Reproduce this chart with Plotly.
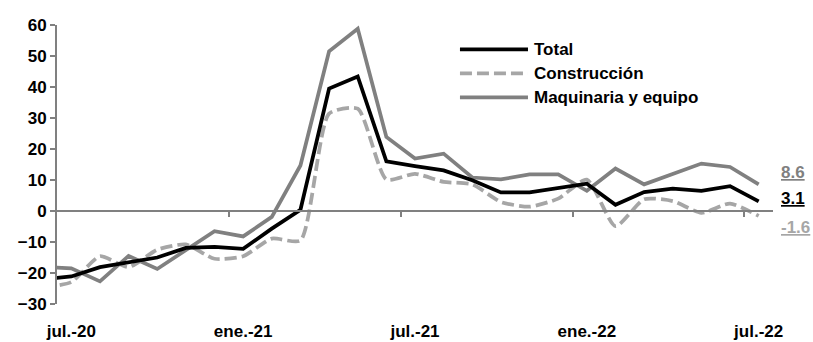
import plotly.graph_objects as go

months = ['jun.-20', 'jul.-20', 'ago.-20', 'sep.-20', 'oct.-20', 'nov.-20', 'dic.-20',
          'ene.-21', 'feb.-21', 'mar.-21', 'abr.-21', 'may.-21', 'jun.-21',
          'jul.-21', 'ago.-21', 'sep.-21', 'oct.-21', 'nov.-21', 'dic.-21',
          'ene.-22', 'feb.-22', 'mar.-22', 'abr.-22', 'may.-22', 'jun.-22', 'jul.-22']
total = [-22.0, -21.1, -18.1, -16.5, -15.0, -11.9, -11.6, -12.2, -5.7, 0.4, 39.5, 43.4, 16.0,
         14.5, 13.1, 9.9, 6.0, 6.0, 7.5, 8.8, 2.0, 6.1, 7.2, 6.5, 8.0, 3.1]
construccion = [-24.7, -22.9, -14.6, -18.1, -12.5, -10.8, -15.4, -14.6, -8.9, -9.5, 31.4, 33.0, 10.2,
                12.0, 9.4, 8.6, 2.9, 1.4, 4.0, 10.1, -4.9, 3.8, 3.2, -0.6, 2.4, -1.6]
maquinaria = [-18.1, -18.5, -22.7, -14.5, -18.7, -12.5, -6.5, -8.2, -1.9, 14.7, 51.5, 58.8, 23.9,
              16.9, 18.5, 10.8, 10.2, 11.8, 11.8, 6.5, 13.7, 8.6, 11.8, 15.3, 14.2, 8.6]
tick_labels = ['jul.-20', 'ene.-21', 'jul.-21', 'ene.-22', 'jul.-22']
series_names = ['Total', 'Construcción', 'Maquinaria y equipo']

FONT = "Liberation Sans, Arial, sans-serif"
FS = 17
C_TOTAL = '#000000'
C_CONS = '#a6a6a6'
C_MAQ = '#808080'
AXIS = '#808080'

x = list(range(len(months)))
tickvals = [months.index(t) for t in tick_labels]
boundary = [v + 5.5 for v in tickvals[:-1]]

fig = go.Figure()
fig.add_trace(go.Scatter(x=x, y=maquinaria, mode='lines', name=series_names[2],
                         line=dict(color=C_MAQ, width=3.75), showlegend=False))
fig.add_trace(go.Scatter(x=x, y=construccion, mode='lines', name=series_names[1],
                         line=dict(color=C_CONS, width=3.75, dash='12px,5px', shape='spline', smoothing=0.6),
                         showlegend=False))
fig.add_trace(go.Scatter(x=x, y=total, mode='lines', name=series_names[0],
                         line=dict(color=C_TOTAL, width=3.75), showlegend=False))
# helper trace for the axis that crosses at zero
fig.add_trace(go.Scatter(x=[None], y=[None], xaxis='x2', showlegend=False, hoverinfo='skip'))

xr = [0.5, len(months) - 0.5]
ymin, ymax = -30, 60
fig.update_layout(
    width=813, height=342,
    margin=dict(l=57, r=40, t=25, b=38),
    paper_bgcolor='white', plot_bgcolor='white',
    font=dict(family=FONT, size=FS, color='black', weight='bold'),
    xaxis=dict(range=xr, showgrid=False, zeroline=False, showline=False, automargin=False,
               tickvals=tickvals, ticktext=tick_labels, ticks='outside', ticklen=12,
               tickcolor='rgba(0,0,0,0)', tickfont=dict(family=FONT, size=FS, weight='bold')),
    xaxis2=dict(range=xr, overlaying='x', anchor='free', position=(0 - ymin) / (ymax - ymin),
                showgrid=False, zeroline=False, showline=True, linecolor=AXIS, linewidth=2,
                tickvals=boundary, ticks='outside', ticklen=5, tickwidth=2, tickcolor=AXIS,
                showticklabels=False, automargin=False),
    yaxis=dict(range=[ymin, ymax], dtick=10, showgrid=False, zeroline=False, automargin=False,
               showline=True, linecolor=AXIS, linewidth=2, ticks='outside', ticklen=5,
               tickwidth=2, tickcolor=AXIS, tickfont=dict(family=FONT, size=FS, weight='bold')),
)

# legend drawn manually to match long line samples
leg_rows = [(series_names[0], C_TOTAL, 'solid'), (series_names[1], C_CONS, '12px,5px'),
            (series_names[2], C_MAQ, 'solid')]
leg_y = [0.913, 0.827, 0.741]
for (name, col, dash), yy in zip(leg_rows, leg_y):
    fig.add_shape(type='line', xref='paper', yref='paper', x0=0.5628, x1=0.6578, y0=yy, y1=yy,
                  line=dict(color=col, width=3.75, dash=dash))
    fig.add_annotation(xref='paper', yref='paper', x=0.6636, y=yy, text=name, showarrow=False,
                       xanchor='left', yanchor='middle', font=dict(family=FONT, size=FS, color='black', weight='bold'))

# end-value labels
end_labels = [(maquinaria[-1], C_MAQ, 12), (total[-1], C_TOTAL, 3), (construccion[-1], C_CONS, -12)]
for val, col, ys in end_labels:
    fig.add_annotation(xref='paper', yref='y', x=1, y=val, text='<u>%.1f</u>' % val, showarrow=False,
                       xanchor='left', yanchor='middle', xshift=6, yshift=ys,
                       font=dict(family=FONT, size=FS, color=col, weight='bold'))

fig.write_html('out.html', config={'displayModeBar': False},
               post_script="document.body.style.margin='0';")
